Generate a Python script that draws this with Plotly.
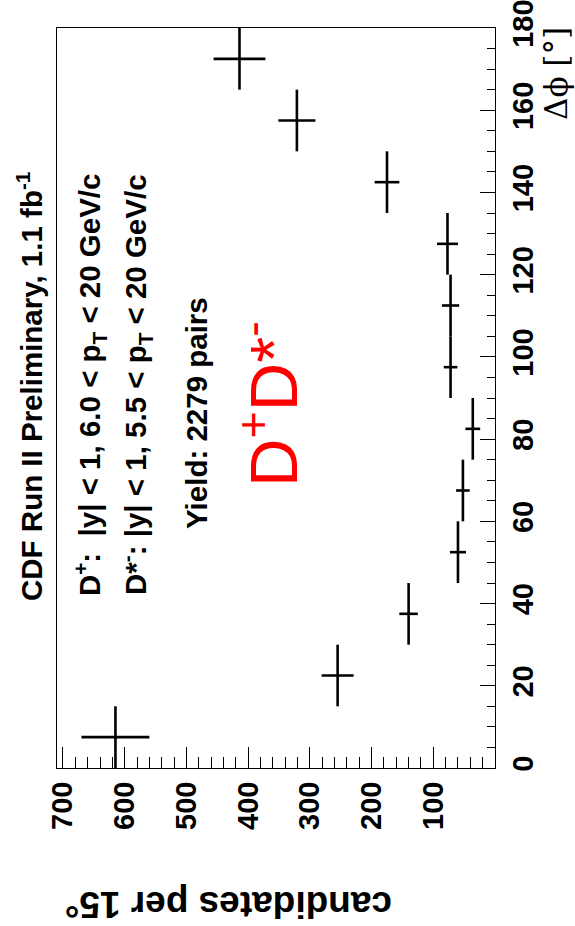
import plotly.graph_objects as go

# Data: delta-phi bin centres (degrees), candidates per 15 deg, and errors
dphi = [7.5, 22.5, 37.5, 52.5, 67.5, 82.5, 97.5, 112.5, 127.5, 142.5, 157.5, 172.5]
counts = [615, 255, 140, 60, 52, 36, 72, 72, 77, 175, 321, 414]
count_err = [55, 26, 15, 13, 11, 12, 11, 14, 17, 20, 30, 42]
bin_half = 7.5

value_ticks = [100, 200, 300, 400, 500, 600, 700]
phi_ticks = [0, 20, 40, 60, 80, 100, 120, 140, 160, 180]

W, H = 575, 926
L, R, T, B = 57, 495, 28, 768
PW, PH = R - L, B - T


def px(x):
    return (x - L) / PW


def py(y):
    return 1 - (y - T) / PH


fig = go.Figure()
fig.add_trace(go.Scatter(
    x=counts, y=dphi, mode="markers",
    marker=dict(size=2, color="rgba(0,0,0,0)"),
    error_x=dict(type="data", array=count_err, width=0, thickness=2.6, color="black"),
    error_y=dict(type="constant", value=bin_half, width=0, thickness=2.6, color="black"),
    showlegend=False, hoverinfo="skip",
))

tickfont = dict(family="Liberation Sans", size=29, color="black", weight="bold")

fig.update_layout(
    width=W, height=H, autosize=False,
    margin=dict(l=L, r=W - R, t=T, b=H - B, autoexpand=False),
    paper_bgcolor="white", plot_bgcolor="white",
    xaxis=dict(
        range=[709.7, 0], showgrid=False, zeroline=False, automargin=False,
        showline=True, linecolor="black", linewidth=1, mirror=True,
        ticks="inside", ticklen=21, tickwidth=1, tickcolor="black",
        tickvals=value_ticks, ticktext=[str(v) for v in value_ticks],
        tickangle=-90, tickfont=tickfont, ticklabelstandoff=1,
        ticklabeloverflow="allow",
        minor=dict(dtick=20, tick0=0, ticks="inside", ticklen=11, tickwidth=1, tickcolor="black"),
    ),
    yaxis=dict(
        range=[0, 180], side="right", showgrid=False, zeroline=False, automargin=False,
        showline=True, linecolor="black", linewidth=1, mirror=True,
        ticks="inside", ticklen=15, tickwidth=1, tickcolor="black",
        tickvals=phi_ticks, ticktext=[str(v) for v in phi_ticks],
        tickangle=-90, tickfont=tickfont, ticklabelstandoff=2,
        ticklabeloverflow="allow",
        minor=dict(dtick=5, tick0=0, ticks="inside", ticklen=8, tickwidth=1, tickcolor="black"),
    ),
)

bold = dict(family="Liberation Sans", color="black", weight="bold")


def note(text, x, y, size, angle=-90, font=None, color="black"):
    f = dict(font or bold)
    f["size"] = size
    f["color"] = color
    fig.add_annotation(
        text=text, x=px(x), y=py(y), xref="paper", yref="paper",
        xanchor="center", yanchor="middle", showarrow=False,
        textangle=angle, font=f,
    )


note("CDF Run II Preliminary, 1.1 fb<sup>-1</sup>", 29, 387, 29.5)
note("D<sup>+</sup>:  |y| &lt; 1, 6.0 &lt; p<sub>T</sub> &lt; 20 GeV/c", 90, 385, 29.5)
note("D*<sup>-</sup>: |y| &lt; 1, 5.5 &lt; p<sub>T</sub> &lt; 20 GeV/c", 136, 385, 29.5)
note("Yield: 2279 pairs", 196, 413, 29.5)
note("D<sup>+</sup>D*<sup>-</sup>", 269, 404, 67,
     font=dict(family="Liberation Sans", weight="normal"), color="#ff0000")

# axis titles
note("candidates per 15°", 229, 905, 37, angle=180)
note("Δϕ [°]", 556, 74, 31, font=dict(family="DejaVu Serif", weight="normal"))

fig.write_html("out.html")
